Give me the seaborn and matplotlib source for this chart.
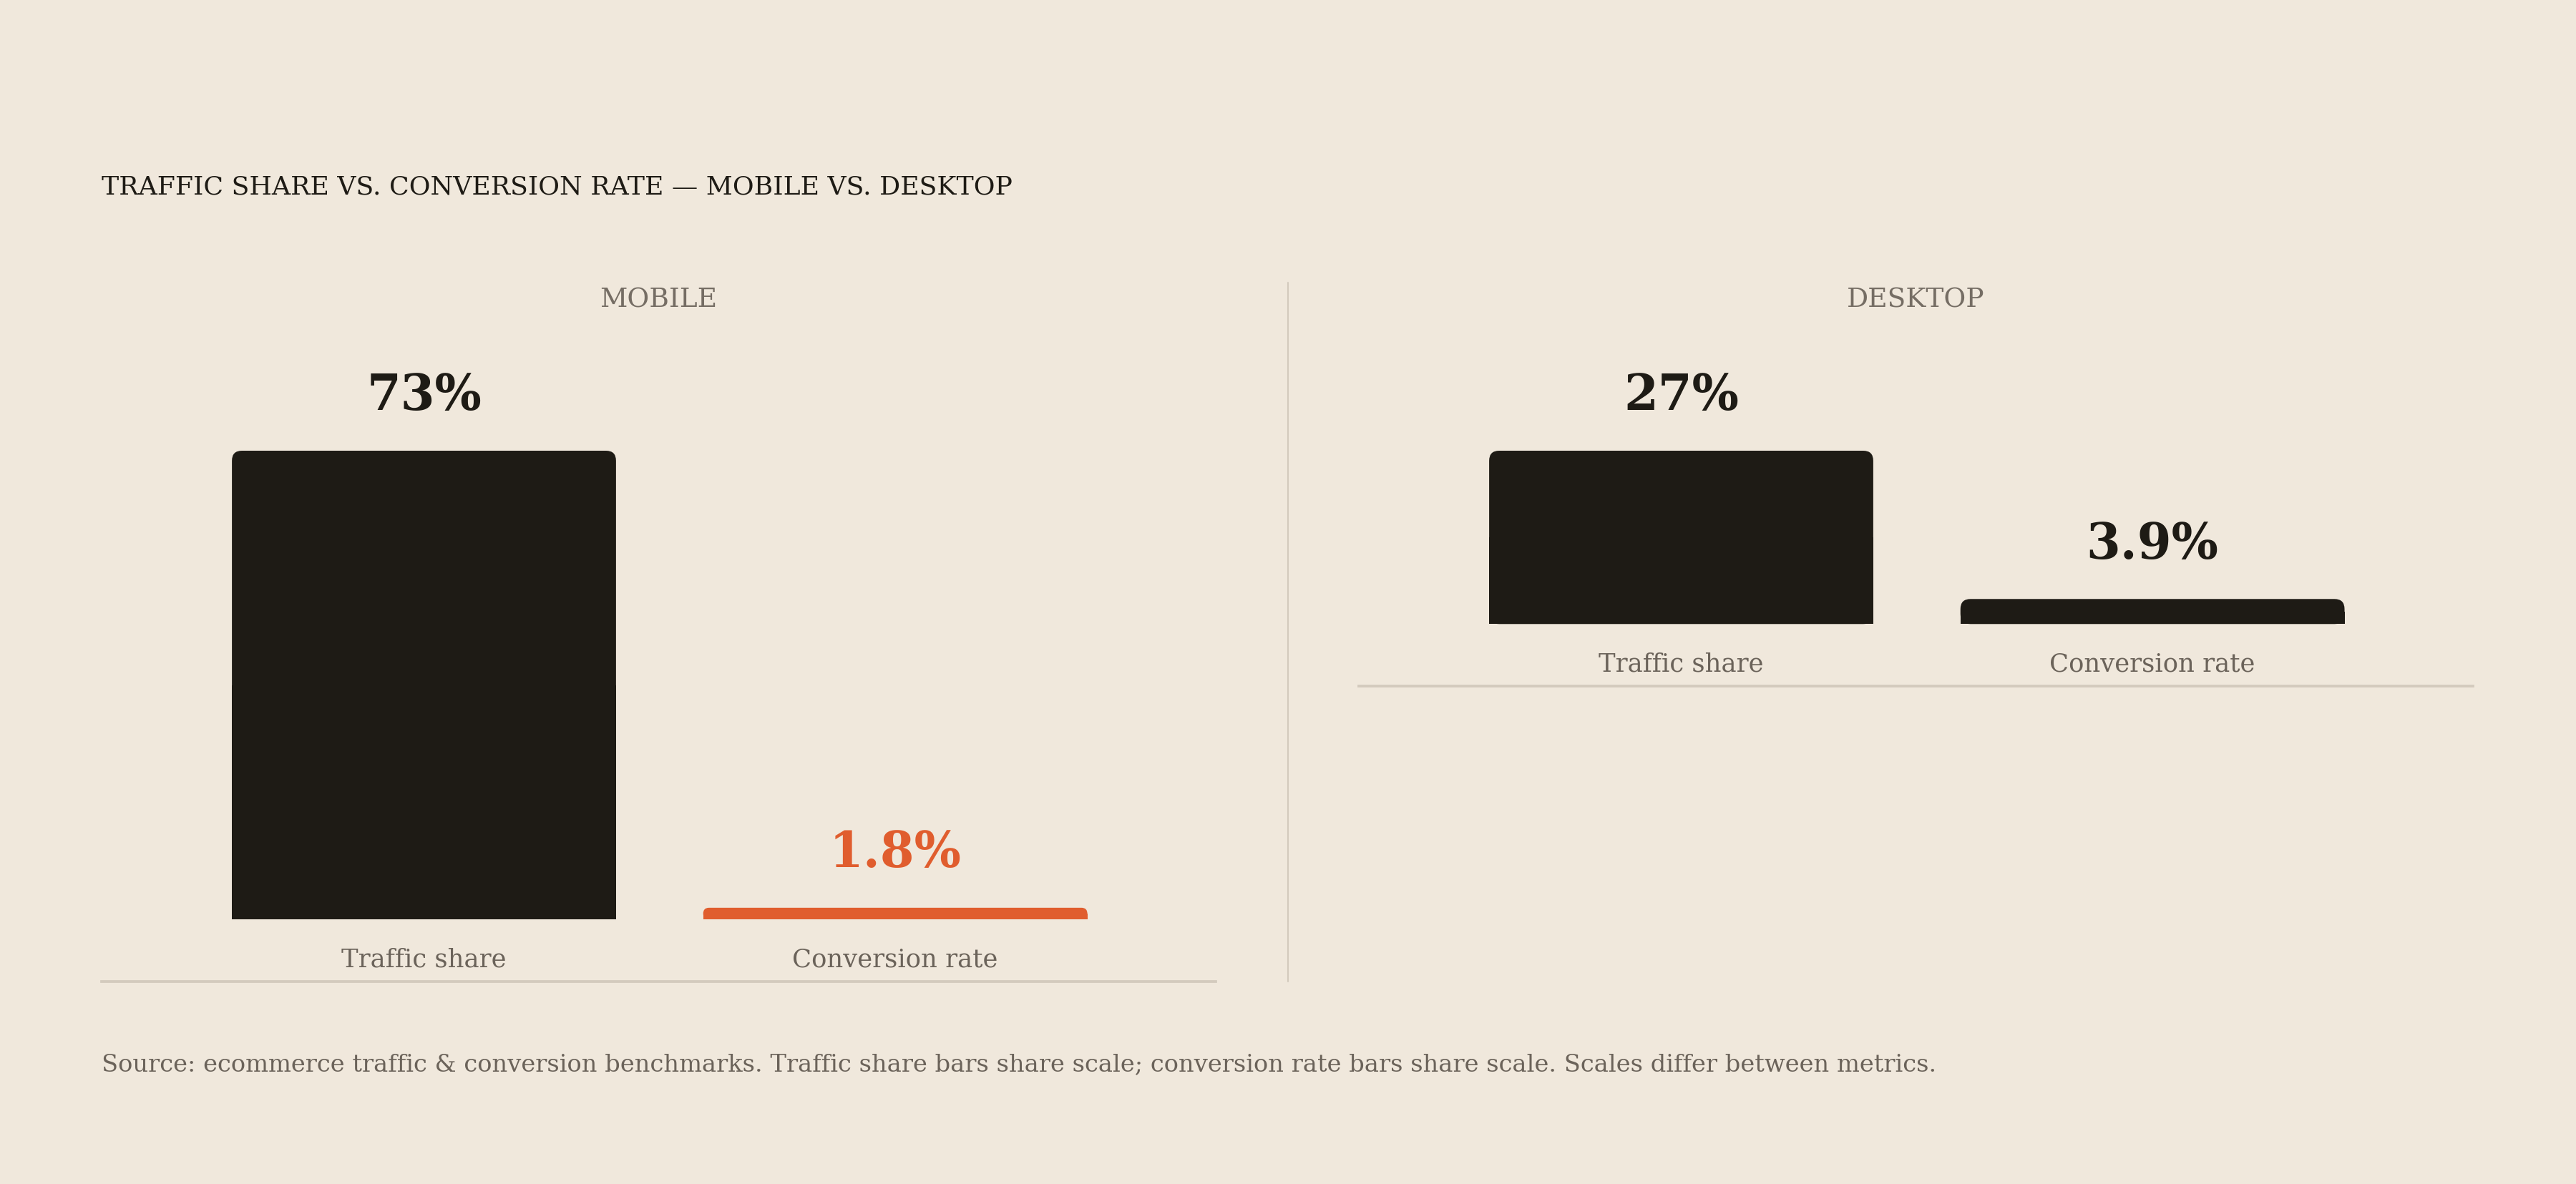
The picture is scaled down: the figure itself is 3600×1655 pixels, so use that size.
import pandas as pd
import matplotlib.pyplot as plt
import seaborn as sns
from matplotlib.patches import FancyBboxPatch, Rectangle
from matplotlib.lines import Line2D

# datos
devices = ["Mobile", "Desktop"]
metrics = ["Traffic share", "Conversion rate"]
mobile_values = [73, 1.8]
desktop_values = [27, 3.9]
mobile_labels = ["73%", "1.8%"]
desktop_labels = ["27%", "3.9%"]

df = pd.DataFrame({
    "device": ["Mobile"] * 2 + ["Desktop"] * 2,
    "metric": metrics * 2,
    "value": mobile_values + desktop_values,
    "label": mobile_labels + desktop_labels,
})

BG = "#f0e8dc"
INK = "#1e1b15"
ORANGE = "#e05d2e"
GREY = "#6b635a"
RULE = "#d3cabd"

sns.set_theme(style="white")
plt.rcParams["font.family"] = ["DejaVu Serif"]

W, H = 3600, 1656
DPI = 300
fig = plt.figure(figsize=(W / DPI, H / DPI), dpi=DPI, facecolor=BG)

# layout en pixeles
px_per_unit = 655 / 73
gap = 87
top_px = 631
panel_left = {"Mobile": 142, "Desktop": 1899}
panel_w = 1557
colors = {"Mobile": [INK, ORANGE], "Desktop": [INK, INK]}
label_colors = {"Mobile": [INK, ORANGE], "Desktop": [INK, INK]}

for dev in devices:
    sub = df[df["device"] == dev]
    vmax = sub["value"].max()
    h_px = vmax * px_per_unit + gap
    ax = fig.add_axes([panel_left[dev] / W, 1 - (top_px + h_px) / H, panel_w / W, h_px / H])
    ax.set_facecolor(BG)
    sns.barplot(data=sub, x="metric", y="value", hue="metric", palette=colors[dev],
                legend=False, width=0.815, ax=ax, saturation=1)
    ax.set_xlim(-0.684, 1.68)
    ax.set_ylim(-gap / px_per_unit, vmax)

    # esquinas redondeadas arriba
    xpx = ax.transData.transform([(0, 0), (1, 1)])
    ux = xpx[1, 0] - xpx[0, 0]
    uy = xpx[1, 1] - xpx[0, 1]
    aspect = ux / uy
    r = 14 / ux
    for p in list(ax.patches):
        x, w, hgt = p.get_x(), p.get_width(), p.get_height()
        fc = p.get_facecolor()
        p.set_visible(False)
        rr = min(r, hgt / aspect / 2)
        ax.add_patch(FancyBboxPatch((x, 0), w, hgt, boxstyle=f"round,pad=0,rounding_size={rr}",
                                    mutation_aspect=aspect, fc=fc, ec="none", lw=0))
        ax.add_patch(Rectangle((x, 0), w, hgt / 2, fc=fc, ec="none", lw=0))

    for i, (v, lab) in enumerate(zip(sub["value"], sub["label"])):
        ax.annotate(lab, (i, v), xytext=(0, 18.5), textcoords="offset points",
                    ha="center", va="center", fontsize=16.5, fontweight="bold",
                    color=label_colors[dev][i])
        ax.annotate(metrics[i], (i, 0), xytext=(0, -13.2), textcoords="offset points",
                    ha="center", va="center", fontsize=8.5, color=GREY)

    for s in ["top", "left", "right"]:
        ax.spines[s].set_visible(False)
    ax.spines["bottom"].set_color(RULE)
    ax.spines["bottom"].set_linewidth(0.9)
    ax.set_xticks([])
    ax.set_yticks([])
    ax.set_xlabel("")
    ax.set_ylabel("")

    fig.text((panel_left[dev] + panel_w / 2) / W, 1 - 420 / H, dev.upper(),
             ha="center", va="center", fontsize=9, color="#756d64")

fig.add_artist(Line2D([1800 / W, 1800 / W], [1 - 396 / H, 1 - 1373 / H],
                      color=RULE, lw=0.5, transform=fig.transFigure))

fig.text(142 / W, 1 - 262 / H, "TRAFFIC SHARE VS. CONVERSION RATE — MOBILE VS. DESKTOP",
         ha="left", va="center", fontsize=8.7, color=INK)
fig.text(142 / W, 1 - 1488 / H,
         "Source: ecommerce traffic & conversion benchmarks. Traffic share bars share scale; "
         "conversion rate bars share scale. Scales differ between metrics.",
         ha="left", va="center", fontsize=8.1, color=GREY)

fig.savefig("out.png", dpi=DPI, facecolor=BG)
